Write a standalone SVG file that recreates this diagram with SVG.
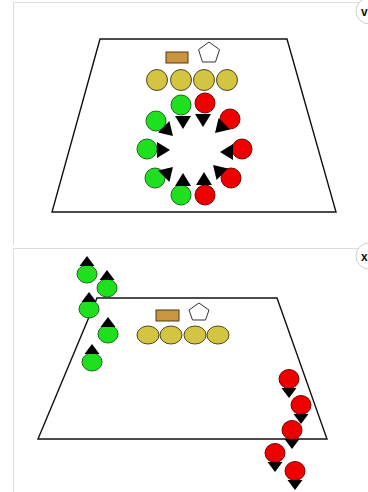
<svg xmlns="http://www.w3.org/2000/svg" width="368" height="492" viewBox="0 0 368 492">
<style>
.frame{fill:none;stroke:#dcdcdc;stroke-width:1}
.pitch{fill:#fff;stroke:#111;stroke-width:1.4}
.g{fill:#1fe01f;stroke:#1b6a1b;stroke-width:1}
.r{fill:#ee0000;stroke:#7a0000;stroke-width:1}
.y{fill:#d3c442;stroke:#4f4620;stroke-width:1}
.box{fill:#c9963f;stroke:#4a3a1a;stroke-width:1}
.pent{fill:#fff;stroke:#333;stroke-width:1}
.ar{fill:#000}
.btn{fill:#fff;stroke:#cfcfcf;stroke-width:1}
.bt{font-family:"Liberation Sans",Arial,sans-serif;font-size:12px;font-weight:bold;fill:#111}
</style>
<defs>
<path id="t1" d="M-8,-6 L8,-6 L0,7 Z"/>
<path id="t2" d="M-7.5,-5 L7.5,-5 L0,5 Z"/>
</defs>
<rect width="368" height="492" fill="#fff"/>
<g id="panel-top">
<path class="frame" d="M13.5,245 V2.5 H368"/>
<g id="btn-v"><circle class="btn" cx="369" cy="11" r="13"/><text class="bt" x="361" y="16">v</text></g>
<polygon id="pitch-top" class="pitch" points="100,39 287,39 336,212 52,212"/>
<g id="top-box"><rect class="box" x="166" y="52" width="22" height="11"/></g>
<g id="top-pent"><polygon class="pent" points="209,42 219.5,49.6 215.5,62 202.5,62 198.5,49.6"/></g>
<g id="top-y1"><circle class="y" cx="157" cy="80" r="10.5"/></g>
<g id="top-y2"><circle class="y" cx="181" cy="80" r="10.5"/></g>
<g id="top-y3"><circle class="y" cx="204" cy="80" r="10.5"/></g>
<g id="top-y4"><circle class="y" cx="227" cy="80" r="10.5"/></g>
<g id="top-g1"><circle class="g" cx="181" cy="105" r="10"/><use class="ar" href="#t1" transform="translate(183,122)"/></g>
<g id="top-r1"><circle class="r" cx="205" cy="103" r="10"/><use class="ar" href="#t1" transform="translate(203,120)"/></g>
<g id="top-g2"><circle class="g" cx="156" cy="121" r="10"/><use class="ar" href="#t1" transform="translate(168,131) rotate(-45)"/></g>
<g id="top-r2"><circle class="r" cx="230" cy="119" r="10"/><use class="ar" href="#t1" transform="translate(220,128) rotate(45)"/></g>
<g id="top-g3"><circle class="g" cx="147" cy="149" r="10"/><use class="ar" href="#t1" transform="translate(163,150) rotate(-90)"/></g>
<g id="top-r3"><circle class="r" cx="242" cy="149" r="10"/><use class="ar" href="#t1" transform="translate(227,152) rotate(90)"/></g>
<g id="top-g4"><circle class="g" cx="155" cy="178" r="10"/><use class="ar" href="#t1" transform="translate(168,172) rotate(-135)"/></g>
<g id="top-r4"><circle class="r" cx="231" cy="178" r="10"/><use class="ar" href="#t1" transform="translate(218,170) rotate(135)"/></g>
<g id="top-g5"><circle class="g" cx="181" cy="195" r="10"/><use class="ar" href="#t1" transform="translate(183,180) rotate(180)"/></g>
<g id="top-r5"><circle class="r" cx="205" cy="195" r="10"/><use class="ar" href="#t1" transform="translate(204,179) rotate(180)"/></g>
</g>
<g id="panel-bottom">
<path class="frame" d="M13.5,492 V248.5 H368"/>
<g id="btn-x"><circle class="btn" cx="369" cy="256" r="13"/><text class="bt" x="361" y="261">x</text></g>
<polygon id="pitch-bottom" class="pitch" points="97,298 277,298 327,439 38,439"/>
<g id="bot-box"><rect class="box" x="156" y="310" width="23" height="11"/></g>
<g id="bot-pent"><polygon class="pent" points="199,303 209,310 205.5,320 192.5,320 189,310"/></g>
<g id="bot-y1"><ellipse class="y" cx="148" cy="335" rx="11" ry="9"/></g>
<g id="bot-y2"><ellipse class="y" cx="171" cy="335" rx="11" ry="9"/></g>
<g id="bot-y3"><ellipse class="y" cx="195" cy="335" rx="11" ry="9"/></g>
<g id="bot-y4"><ellipse class="y" cx="218" cy="335" rx="11" ry="9"/></g>
<g id="bot-g1"><ellipse class="g" cx="87" cy="274" rx="10" ry="9"/><use class="ar" href="#t2" transform="translate(87,261) rotate(180)"/></g>
<g id="bot-g2"><ellipse class="g" cx="107" cy="288" rx="10" ry="9"/><use class="ar" href="#t2" transform="translate(107,275) rotate(180)"/></g>
<g id="bot-g3"><ellipse class="g" cx="89" cy="309" rx="10" ry="9"/><use class="ar" href="#t2" transform="translate(89,297) rotate(180)"/></g>
<g id="bot-g4"><ellipse class="g" cx="108" cy="334" rx="10" ry="9"/><use class="ar" href="#t2" transform="translate(108,322) rotate(180)"/></g>
<g id="bot-g5"><ellipse class="g" cx="92" cy="362" rx="10" ry="9"/><use class="ar" href="#t2" transform="translate(92,349) rotate(180)"/></g>
<g id="bot-r1"><ellipse class="r" cx="289" cy="379" rx="10" ry="9.5"/><use class="ar" href="#t2" transform="translate(289,393)"/></g>
<g id="bot-r2"><ellipse class="r" cx="301" cy="405" rx="10" ry="9.5"/><use class="ar" href="#t2" transform="translate(301,419)"/></g>
<g id="bot-r3"><ellipse class="r" cx="292" cy="430" rx="10" ry="9.5"/><use class="ar" href="#t2" transform="translate(292,444)"/></g>
<g id="bot-r4"><ellipse class="r" cx="275" cy="453" rx="10" ry="9.5"/><use class="ar" href="#t2" transform="translate(275,467)"/></g>
<g id="bot-r5"><ellipse class="r" cx="295" cy="471" rx="10" ry="9.5"/><use class="ar" href="#t2" transform="translate(295,485)"/></g>
</g>
</svg>
